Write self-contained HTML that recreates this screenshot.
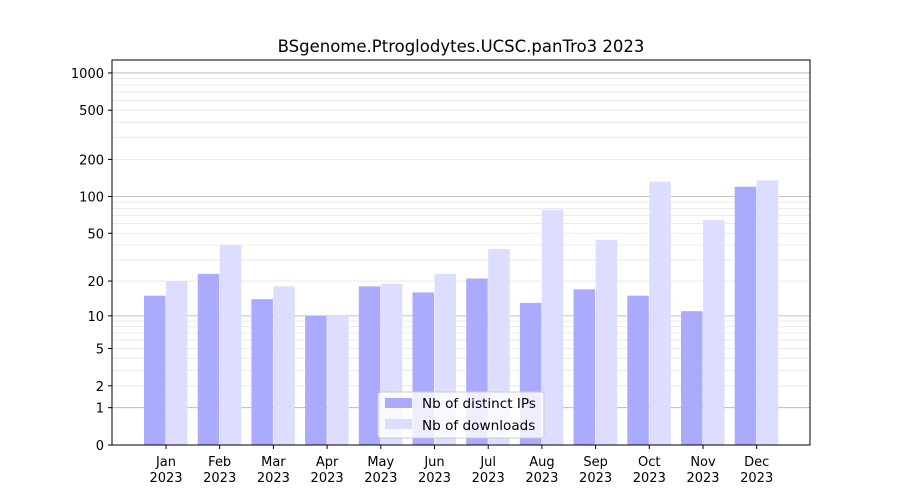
<!DOCTYPE html>
<html><head><meta charset="utf-8"><style>
body{margin:0;background:#fff}
svg{display:block;font-family:"DejaVu Sans","Liberation Sans",sans-serif}
</style></head><body>
<svg id="s" width="900" height="500" xmlns="http://www.w3.org/2000/svg">
<rect width="900" height="500" fill="#fff"/>
<g id="grid"></g><g id="bars"></g>
<rect x="112" y="60" width="698" height="385" fill="none" stroke="#000" stroke-width="1"/>
<g id="ticks" font-size="13"></g>
<text x="461" y="52" font-size="16.5" text-anchor="middle">BSgenome.Ptroglodytes.UCSC.panTro3 2023</text>
<g>
<rect x="378" y="392" width="166" height="46" rx="3" fill="#fff" fill-opacity="0.8" stroke="#ccc"/>
<rect x="385" y="398" width="27" height="10" fill="#aaaaff"/>
<text x="422" y="408" font-size="13.6">Nb of distinct IPs</text>
<rect x="385" y="419" width="27" height="10" fill="#ddddff"/>
<text x="422" y="430" font-size="13.6">Nb of downloads</text>
</g>
</svg>
<script>
const Y=v=>445-124*Math.log10(v+1);
const ns="http://www.w3.org/2000/svg";
function el(p,t,a,txt){const e=document.createElementNS(ns,t);for(const k in a)e.setAttribute(k,a[k]);if(txt!==undefined)e.textContent=txt;document.getElementById(p).appendChild(e);return e;}
for(const d of [1,10,100]){for(let m=2;m<=9;m++){const y=Y(m*d);el("grid","line",{x1:112,x2:810,y1:y,y2:y,stroke:"#e6e6e6","stroke-width":0.8});}}
for(const v of [1,10,100,1000]){const y=Y(v);el("grid","line",{x1:112,x2:810,y1:y,y2:y,stroke:"#b0b0b0","stroke-width":0.8});}
const a=[15,23,14,10,18,16,21,13,17,15,11,120],b=[20,40,18,10,19,23,37,78,44,132,64,135];
const M=["Jan","Feb","Mar","Apr","May","Jun","Jul","Aug","Sep","Oct","Nov","Dec"];
for(let i=0;i<12;i++){const c=166+i*53.7;
el("bars","rect",{x:c-22,y:Y(a[i]),width:21.5,height:445-Y(a[i]),fill:"#aaaaff"});
el("bars","rect",{x:c,y:Y(b[i]),width:21.5,height:445-Y(b[i]),fill:"#ddddff"});
el("ticks","line",{x1:c,x2:c,y1:445,y2:449,stroke:"#000"});
el("ticks","text",{x:c,y:466,"text-anchor":"middle"},M[i]);
el("ticks","text",{x:c,y:482,"text-anchor":"middle"},"2023");}
for(const v of [0,1,2,5,10,20,50,100,200,500,1000]){const y=Y(v);
el("ticks","line",{x1:108,x2:112,y1:y,y2:y,stroke:"#000"});
el("ticks","text",{x:104,y:y+5,"text-anchor":"end"},String(v));}
</script>
</body></html>
